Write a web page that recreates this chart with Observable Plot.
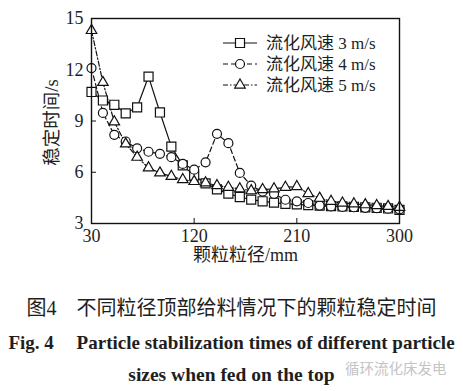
<!DOCTYPE html>
<html><head><meta charset="utf-8">
<script src="https://cdn.jsdelivr.net/npm/d3@7"></script>
<script src="https://cdn.jsdelivr.net/npm/@observablehq/plot@0.6"></script>
<style>
body{margin:0;background:#fff;width:463px;height:391px;overflow:hidden;font-family:"Liberation Serif","Noto Sans CJK SC",serif;position:relative}
#chart{position:absolute;left:0;top:0}
.cap{position:absolute;left:0;width:463px;text-align:center;color:#1e1e1e;white-space:nowrap}
</style></head><body>
<div id="chart"></div>
<div class="cap" id="c1" style="top:298px;font-size:20px;line-height:20px">图4　不同粒径顶部给料情况下的颗粒稳定时间</div>
<div class="cap" id="c2" style="top:333px;font-size:19px;line-height:20px;font-weight:bold">Fig. 4&emsp;&thinsp;Particle stabilization times of different particle</div>
<div class="cap" id="c3" style="top:365px;font-size:19.5px;line-height:20px;font-weight:bold">sizes when fed on the top</div>
<div class="cap" id="wm" style="top:360px;left:345px;width:auto;font-size:14.5px;line-height:16px;color:#c4c4c4;font-family:'Noto Sans CJK SC'">循环流化床发电</div>
<script>
// particle size (mm)
const sizes = [30,40,50,60,70,80,90,100,110,120,130,140,150,160,170,180,190,200,210,220,230,240,250,260,270,280,290,300];
// stabilization time (s)
const v3 = [10.7,10.2,9.95,9.45,9.8,11.6,9.5,7.5,6.4,5.8,5.35,5.0,4.75,4.55,4.4,4.3,4.22,4.15,4.12,4.08,4.05,4.02,4.0,3.98,3.95,3.92,3.88,3.8];
const v4 = [12.1,9.47,8.19,7.8,7.4,7.2,7.08,6.88,6.49,6.15,6.58,8.25,7.7,5.96,5.22,4.87,4.74,4.39,4.3,4.2,4.05,4.0,3.97,3.95,3.92,3.9,3.87,3.83];
const v5 = [14.3,11.26,8.95,7.66,6.88,6.26,5.96,5.76,5.57,5.46,5.38,5.22,5.12,5.03,4.92,4.99,5.03,5.12,5.16,4.75,4.48,4.3,4.2,4.15,4.1,4.05,4.0,3.95];
const seriesNames = ["流化风速 3 m/s","流化风速 4 m/s","流化风速 5 m/s"];
const xTicks = [30,120,210,300];
const yTicks = [3,6,9,12,15];
const xLabel = "颗粒粒径/mm";
const yLabel = "稳定时间/s";

const styles = [
  {symbol:"square", r:5.1, dash:null},
  {symbol:"circle", r:4.5, dash:"5,3"},
  {symbol:"triangle", r:3.9, dash:"5,2,1.5,2"}
];
const allValues = [v3, v4, v5];
const series = seriesNames.map((name, k) => ({name, values: allValues[k], ...styles[k]}));
const tables = series.map(s => sizes.map((x, i) => ({x, y: s.values[i], name: s.name})));

const lineMarks = series.map((s, k) => Plot.line(tables[k], {x:"x", y:"y", stroke:"#111", strokeWidth:1.2, strokeDasharray:s.dash}));
const dotMarks = series.map((s, k) => Plot.dot(tables[k], {x:"x", y:"y", symbol:()=>s.symbol, r:s.r, stroke:"#111", strokeWidth:1.2, fill:"white"}));

function symbolType(name) {
  return name === "square" ? d3.symbolSquare : name === "circle" ? d3.symbolCircle : d3.symbolTriangle;
}

// legend and y-axis title
function annotations(index, scales, values, dimensions) {
  const g = d3.create("svg:g").attr("font-size", 17).attr("text-anchor", "start");
  const x0 = dimensions.width - dimensions.marginRight - 176;
  series.forEach((s, k) => {
    const y = dimensions.marginTop + 25 + k * 21;
    g.append("line").attr("x1", x0).attr("x2", x0 + 34).attr("y1", y).attr("y2", y)
      .attr("stroke", "#111").attr("stroke-width", 1.2).attr("stroke-dasharray", s.dash);
    g.append("path").attr("transform", `translate(${x0 + 17},${y})`)
      .attr("d", d3.symbol(symbolType(s.symbol), Math.PI * s.r * s.r)())
      .attr("fill", "white").attr("stroke", "#111").attr("stroke-width", 1.2);
    g.append("text").attr("x", x0 + 43).attr("y", y).attr("dy", "0.35em")
      .attr("text-anchor", "start").attr("fill", "#1e1e1e").text(s.name);
  });
  const cy = (dimensions.marginTop + dimensions.height - dimensions.marginBottom) / 2 + 2;
  g.append("text").attr("transform", `translate(${dimensions.marginLeft - 39},${cy}) rotate(-90)`)
    .attr("text-anchor", "middle").attr("dy", "0.35em").attr("font-size", 18.5)
    .attr("fill", "#1e1e1e").text(yLabel);
  return g.node();
}

const plot = Plot.plot({
  width: 463, height: 272,
  marginLeft: 91, marginRight: 64, marginTop: 18, marginBottom: 49,
  style: {fontFamily: '"Liberation Serif","Noto Sans CJK SC",serif', fontSize: "18px", color: "#1e1e1e", background: "transparent", overflow: "visible"},
  x: {domain: [30, 300]},
  y: {domain: [3, 15]},
  marks: [
    Plot.axisX({ticks: xTicks, tickSize: -5, tickPadding: 11, label: null, stroke: "#111"}),
    Plot.axisY({ticks: yTicks, tickSize: -5, tickPadding: 13, label: null, stroke: "#111"}),
    ...lineMarks,
    ...dotMarks,
    Plot.frame({stroke: "#111", strokeWidth: 1.4}),
    Plot.text([xLabel], {text: d => d, frameAnchor: "bottom", dy: 37, fill: "#1e1e1e"}),
    annotations
  ]
});
document.getElementById("chart").appendChild(plot);
</script>
</body></html>
